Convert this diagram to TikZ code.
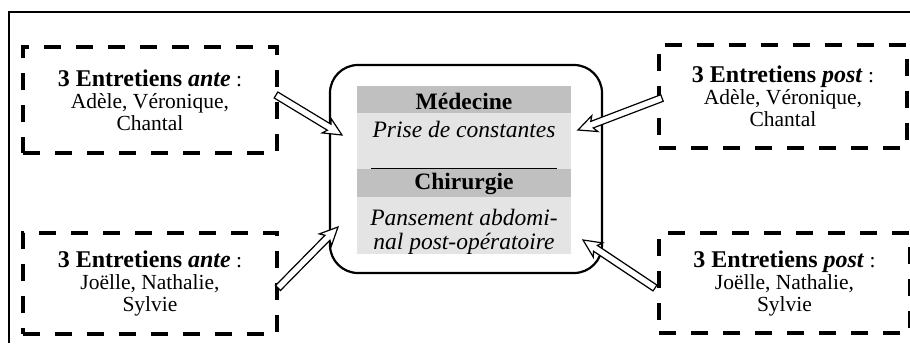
\documentclass[tikz,border=0pt]{standalone}
\usepackage{fontspec}
\setmainfont{Liberation Serif}
\usetikzlibrary{calc}
\tikzset{
  sidebox/.style={draw, line width=4pt, dash pattern=on 17pt off 15pt, align=center,
    inner sep=0pt, font=\fontsize{21.5}{22}\selectfont},
  frameline/.style={line width=2pt},
  arrowline/.style={draw=black, fill=white, line width=1.2pt, line join=miter},
  darkband/.style={fill=bandDark, draw=none},
  lightband/.style={fill=bandLight, draw=none},
  centertext/.style={font=\fontsize{23.5}{24}\selectfont, inner sep=0pt},
}
\definecolor{bandDark}{RGB}{192,192,192}
\definecolor{bandLight}{RGB}{228,228,228}
\newcommand\hollowarrow[2]{%
  \draw[arrowline] let \p1=($(#2)-(#1)$), \n1={atan2(\y1,\x1)}, \n2={veclen(\x1,\y1)-15pt} in
    ($(#1)+(\n1+90:3.5pt)$) -- ($(#1)+(\n1+90:3.5pt)+(\n1:\n2)$)
    -- ($(#1)+(\n1+90:8.5pt)+(\n1:\n2-3pt)$) -- (#2)
    -- ($(#1)+(\n1-90:8.5pt)+(\n1:\n2-3pt)$)
    -- ($(#1)+(\n1-90:3.5pt)+(\n1:\n2)$) -- ($(#1)+(\n1-90:3.5pt)$) -- cycle;}
\begin{document}
\begin{tikzpicture}[x=1pt, y=-1pt]
\useasboundingbox (0,0) rectangle (910,343);
% outer frame
\coordinate (f1) at (9,343);
\coordinate (f2) at (9,12);
\coordinate (f3) at (912,12);
\draw[frameline] (f1) -- (f2) -- (f3);

% side boxes
\node[sidebox, minimum width=254pt, minimum height=106pt] (tl) at (150,100)
  {\textbf{\fontsize{24}{24}\selectfont 3 Entretiens \textit{ante}} :\\ Adèle, Véronique,\\ Chantal};
\node[sidebox, minimum width=254pt, minimum height=101pt] (bl) at (150,283.5)
  {\textbf{\fontsize{24}{24}\selectfont 3 Entretiens \textit{ante}} :\\ Joëlle, Nathalie,\\ Sylvie};
\node[sidebox, minimum width=248pt, minimum height=103pt] (tr) at (783,96.5)
  {\textbf{\fontsize{24}{24}\selectfont 3 Entretiens \textit{post}} :\\ Adèle, Véronique,\\ Chantal};
\node[sidebox, minimum width=251pt, minimum height=100pt] (br) at (784.5,283)
  {\textbf{\fontsize{24}{24}\selectfont 3 Entretiens \textit{post}} :\\ Joëlle, Nathalie,\\ Sylvie};

% central box
\node[draw, line width=2.2pt, rounded corners=28pt, minimum width=272pt, minimum height=208pt] (c) at (466,169) {};
\fill[lightband] (357,86) rectangle (571,254);
\fill[darkband] (357,86) rectangle (571,113);
\fill[darkband] (357,169) rectangle (571,197);
\coordinate (l1) at (371,168.5);
\coordinate (l2) at (557,168.5);
\draw[line width=1.6pt] (l1) -- (l2);
\node[centertext] (med) at (464,101) {\textbf{Médecine}};
\node[centertext] (med2) at (464,129) {\textit{Prise de constantes}};
\node[centertext] (chi) at (464,184) {\textbf{Chirurgie}};
\node[centertext, align=center] (chi2) at (464,232) {\textit{Pansement abdomi-}\\\textit{nal post-opératoire}};

% arrows
\coordinate (a1t) at (276,95);  \coordinate (a1h) at (342,135);
\coordinate (a2t) at (278,288); \coordinate (a2h) at (338,227);
\coordinate (a3t) at (662,98);  \coordinate (a3h) at (578,130);
\coordinate (a4t) at (655,288); \coordinate (a4h) at (583,240);
\hollowarrow{a1t}{a1h}
\hollowarrow{a2t}{a2h}
\hollowarrow{a3t}{a3h}
\hollowarrow{a4t}{a4h}
\end{tikzpicture}
\end{document}
